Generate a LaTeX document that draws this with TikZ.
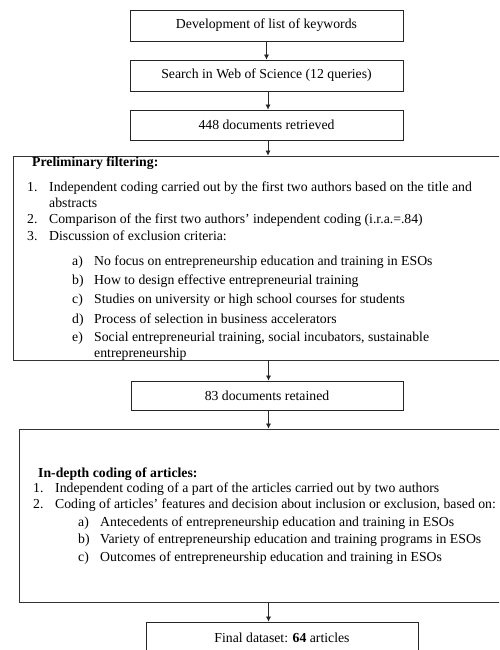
\documentclass[tikz,border=0pt]{standalone}
\usepackage{fontspec}
\setmainfont{Liberation Serif}
\usetikzlibrary{arrows.meta}
\begin{document}
\begin{tikzpicture}[x=1pt,y=-1pt,
  box/.style={draw=black!85,line width=0.8pt,minimum width=273pt,inner sep=0pt,align=center},
  bigbox/.style={draw=black!80,line width=0.8pt,inner sep=0pt},
  txt/.style={anchor=base west,inner sep=0pt},
  arr/.style={draw=black!85,line width=0.6pt,-{Latex[length=5pt,width=5pt]}}]
\clip (0,0) rectangle (499,650);
\fill[white] (0,0) rectangle (499,650);
\fontsize{13.75}{16.5}\selectfont
% top boxes
\node[box,minimum height=31pt] (b1) at (266.5,25.5) {Development of list of keywords};
\node[box,minimum height=31pt] (b2) at (266.5,75.5) {Search in Web of Science (12 queries)};
\node[box,minimum height=30pt] (b3) at (266.5,125) {448 documents retrieved};
% preliminary filtering box
\node[bigbox,minimum width=507pt,minimum height=204pt] (pre) at (266.5,258) {};
\node[txt] (ph) at (32,166.5) {\textbf{Preliminary filtering:}};
\node[txt] (p1n) at (27,191.5) {1.};
\node[txt] (p1) at (49,191.5) {Independent coding carried out by the first two authors based on the title and};
\node[txt] (p1b) at (49,207.5) {abstracts};
\node[txt] (p2n) at (27,223.5) {2.};
\node[txt] (p2) at (49,223.5) {Comparison of the first two authors’ independent coding (i.r.a.=.84)};
\node[txt] (p3n) at (27,240.5) {3.};
\node[txt] (p3) at (49,240.5) {Discussion of exclusion criteria:};
\node[txt] (pan) at (72,265.5) {a)};
\node[txt] (pa) at (94,265.5) {No focus on entrepreneurship education and training in ESOs};
\node[txt] (pbn) at (72,284.5) {b)};
\node[txt] (pb) at (94,284.5) {How to design effective entrepreneurial training};
\node[txt] (pcn) at (72,303.5) {c)};
\node[txt] (pc) at (94,303.5) {Studies on university or high school courses for students};
\node[txt] (pdn) at (72,323.5) {d)};
\node[txt] (pd) at (94,323.5) {Process of selection in business accelerators};
\node[txt] (pen) at (72,341.5) {e)};
\node[txt] (pe) at (94,341.5) {Social entrepreneurial training, social incubators, sustainable};
\node[txt] (peb) at (94,357.5) {entrepreneurship};
% 83 retained
\node[box,minimum width=272pt,minimum height=29pt] (b4) at (267,395.5) {83 documents retained};
% in-depth coding box
\node[bigbox,minimum width=495pt,minimum height=173pt] (ind) at (266.5,515.5) {};
\node[txt] (ih) at (38,477.5) {\textbf{In-depth coding of articles:}};
\node[txt] (i1n) at (33,492.5) {1.};
\node[txt] (i1) at (55,492.5) {Independent coding of a part of the articles carried out by two authors};
\node[txt] (i2n) at (33,508.5) {2.};
\node[txt] (i2) at (55,508.5) {Coding of articles’ features and decision about inclusion or exclusion, based on:};
\node[txt] (ian) at (78,526.5) {a)};
\node[txt] (ia) at (100,526.5) {Antecedents of entrepreneurship education and training in ESOs};
\node[txt] (ibn) at (78,543.5) {b)};
\node[txt] (ib) at (100,543.5) {Variety of entrepreneurship education and training programs in ESOs};
\node[txt] (icn) at (78,561.5) {c)};
\node[txt] (ic) at (100,561.5) {Outcomes of entrepreneurship education and training in ESOs};
% final
\node[box,minimum width=272pt,minimum height=32pt] (fin) at (282,638) {Final dataset: \textbf{64} articles};
% arrows
\draw[arr] (b1.south) -- (b2.north);
\draw[arr] ([xshift=1.5pt]b2.south) -- ([xshift=1.5pt]b3.north);
\draw[arr] ([xshift=1.5pt]b3.south) -- ([xshift=1.5pt]b3.south |- pre.north);
\draw[arr] ([xshift=1.5pt]b4.south |- pre.south) -- ([xshift=1.5pt]b4.north);
\draw[arr] ([xshift=1.5pt]b4.south) -- ([xshift=1.5pt]b4.south |- ind.north);
\draw[arr] ([xshift=1.5pt]b4.south |- ind.south) -- ([xshift=1.5pt]b4.south |- fin.north);
\end{tikzpicture}
\end{document}
